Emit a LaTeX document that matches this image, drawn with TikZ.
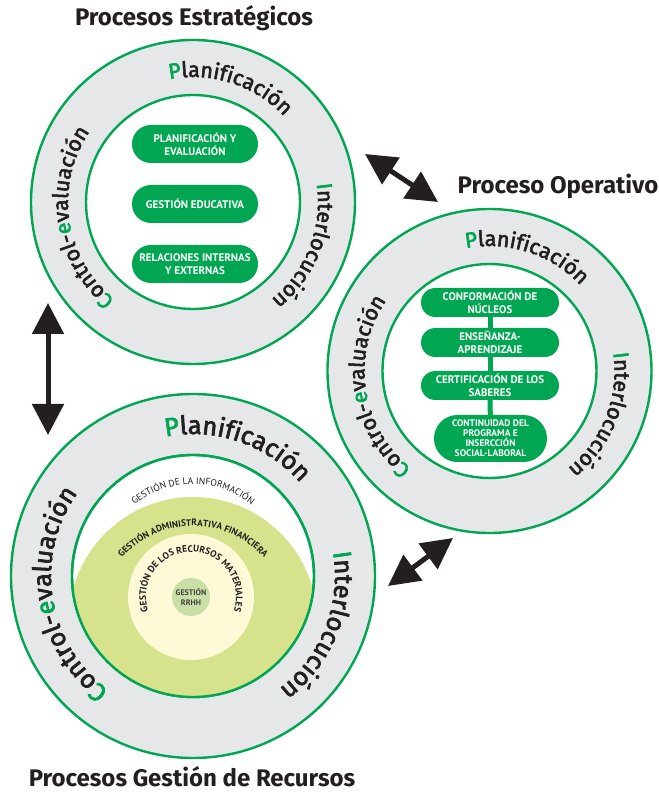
\documentclass[tikz,border=0pt]{standalone}
\usepackage{fontspec}
\setmainfont{PT Sans}
\newfontfamily\ringfont[FakeBold=2.6]{Fira Sans}
\newfontfamily\titlefont{Fira Sans}
\usetikzlibrary{decorations.text,arrows.meta}
\definecolor{pgreen}{HTML}{00A651}
\definecolor{ringgray}{HTML}{E6E7E8}
\definecolor{ink}{HTML}{231F20}
\definecolor{discgreen}{HTML}{D6E38C}
\definecolor{discyellow}{HTML}{FEF9D7}
\definecolor{disccore}{HTML}{C9DFA6}
\tikzset{
  ring/.style={circle,fill=ringgray,draw=pgreen,line width=2.4pt,inner sep=0pt},
  hole/.style={circle,fill=white,draw=pgreen,line width=2.4pt,inner sep=0pt},
  pill/.style={fill=pgreen,text=white,font=\bfseries\fontsize{11}{13}\selectfont,align=center,inner sep=0pt},
  title/.style={font=\titlefont\bfseries\fontsize{24}{26}\selectfont,text=ink,anchor=base},
  bigarrow/.style={line width=5pt,draw=ink,{Triangle[length=31pt,width=31pt]}-{Triangle[length=31pt,width=31pt]}},
}
\newcommand\ringlabel[4]{%
  \path[decorate,decoration={text along path,text align=center,text={#4}}]
  ([shift={(#3+90:#2)}]#1) arc[start angle=#3+90,end angle=#3-90,radius=#2];}
\newcommand\arclabel[5]{%
  \path[decorate,decoration={text along path,text align=center,text={#4}}]
  ([shift={(#3+#5:#2)}]#1) arc[start angle=#3+#5,end angle=#3-#5,radius=#2];}
\def\GA{\ringfont\fontsize{21.5}{21.5}\selectfont\color{pgreen}}
\def\KA{\ringfont\fontsize{21.5}{21.5}\selectfont\color{ink}}
\def\GB{\ringfont\fontsize{25.5}{25.5}\selectfont\color{pgreen}}
\def\KB{\ringfont\fontsize{25.5}{25.5}\selectfont\color{ink}}
\def\SA{\fontsize{9.5}{10}\selectfont\color{ink}}
\def\SB{\bfseries\fontsize{9.3}{10}\selectfont\color{ink}}
\def\SC{\bfseries\fontsize{9.5}{10}\selectfont\color{ink}}
\begin{document}
\begin{tikzpicture}[x=1pt,y=1pt]
\useasboundingbox (0,0) rectangle (659,793);
% circles
\node[ring,minimum size=324pt] (c1) at (193,591) {};
\node[hole,minimum size=214pt] (h1) at (193,591) {};
\node[ring,minimum size=324pt] (c2) at (489.5,422) {};
\node[hole,minimum size=214pt] (h2) at (489.5,422) {};
\node[ring,minimum size=364pt] (c3) at (193,217) {};
\node[hole,minimum size=242pt] (h3) at (193,217) {};
\coordinate (gc) at (193,172);
\begin{scope}
  \clip (193,217) circle (121pt);
  \fill[discgreen] (gc) circle (124pt);
  \node[circle,fill=discyellow,minimum size=126pt,inner sep=0pt] (d2) at (191,196) {};
  \node[circle,fill=disccore,minimum size=38pt,inner sep=0pt,align=center,font=\bfseries\fontsize{8}{9.5}\selectfont,text=ink!85] (d3) at (191,196) {GESTIÓN\\RRHH};
\end{scope}
\draw[pgreen,line width=2.4pt] (h3.center) circle (121pt);
% ring labels
\foreach \c/\r/\g/\k in {c1/125pt/\GA/\KA, c2/125pt/\GA/\KA}{
  \ringlabel{\c}{\r}{72}{|\g|P|\k|lanificación}
  \ringlabel{\c}{\r}{-21.5}{|\g|I|\k|nterlocución}
  \ringlabel{\c}{\r}{188.5}{|\g|C|\k|ontrol-|\g|e|\k|valuación}
}
\ringlabel{c3}{142pt}{71}{|\GB|P|\KB|lanificación}
\ringlabel{c3}{142pt}{-21.5}{|\GB|I|\KB|nterlocución}
\ringlabel{c3}{142pt}{189}{|\GB|C|\KB|ontrol-|\GB|e|\KB|valuación}
% inner arc texts
\arclabel{h3}{92pt}{90}{|\SA|GESTIÓN DE LA INFORMACIÓN}{90}
\arclabel{gc}{95pt}{90}{|\SB|GESTIÓN ADMINISTRATIVA FINANCIERA}{90}
\arclabel{d2}{45pt}{90}{|\SC|GESTIÓN DE LOS RECURSOS MATERIALES}{175}
% pills circle 1
\node[pill,minimum width=126pt,minimum height=38pt,rounded corners=18.9pt] (p11) at (195,649) {PLANIFICACIÓN Y\\EVALUACIÓN};
\node[pill,minimum width=126pt,minimum height=38pt,rounded corners=18.9pt] (p12) at (195,589) {GESTIÓN EDUCATIVA};
\node[pill,minimum width=126pt,minimum height=38pt,rounded corners=18.9pt] (p13) at (195,529) {RELACIONES INTERNAS\\Y EXTERNAS};
% pills circle 2
\node[pill,minimum width=138pt,minimum height=29pt,rounded corners=14.4pt] (p21) at (490,490.5) {CONFORMACIÓN DE\\NÚCLEOS};
\node[pill,minimum width=138pt,minimum height=29pt,rounded corners=14.4pt] (p22) at (490,450.5) {ENSEÑANZA-\\APRENDIZAJE};
\node[pill,minimum width=138pt,minimum height=29pt,rounded corners=14.4pt] (p23) at (490,407.5) {CERTIFICACIÓN DE LOS\\SABERES};
\node[pill,minimum width=113pt,minimum height=47pt,rounded corners=23.4pt,font=\bfseries\fontsize{9.5}{10}\selectfont] (p24) at (490.5,354.5) {CONTINUIDAD DEL\\PROGRAMA E\\INSERCCIÓN\\SOCIAL-LABORAL};
\draw[pgreen,line width=5pt] (p21) -- (p22);
\draw[pgreen,line width=5pt] (p22) -- (p23);
\draw[pgreen,line width=5pt] (p23) -- (p24);
% titles
\node[title] (t1) at (194,767) {Procesos Estratégicos};
\node[title] (t2) at (558,599) {Proceso Operativo};
\node[title] (t3) at (192,6) {Procesos Gestión de Recursos};
% arrows
\coordinate (a1s) at (365,639); \coordinate (a1e) at (438,591);
\coordinate (a2s) at (48,490); \coordinate (a2e) at (48,358);
\coordinate (a3s) at (453,255); \coordinate (a3e) at (388,207);
\draw[bigarrow] (a1s) -- (a1e);
\draw[bigarrow] (a2s) -- (a2e);
\draw[bigarrow] (a3s) -- (a3e);
\end{tikzpicture}
\end{document}
